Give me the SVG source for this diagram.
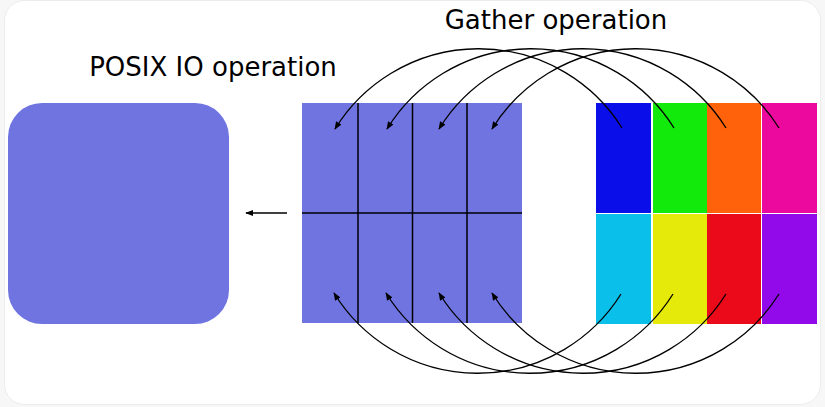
<svg xmlns="http://www.w3.org/2000/svg" width="825" height="407" viewBox="0 0 825 407">
<style>
.lbl{font-family:"DejaVu Sans",sans-serif;font-size:26px;fill:#000;text-anchor:middle}
.grid{stroke:#000;stroke-width:1.5;fill:none}
.arc{stroke:#000;stroke-width:1.3;fill:none;marker-end:url(#ah)}
</style>
<defs>
<marker id="ah" viewBox="0 0 10 10" refX="9" refY="5" markerWidth="8" markerHeight="8" markerUnits="userSpaceOnUse" orient="auto">
<path d="M0,1 L10,5 L0,9 Z" fill="#000"/>
</marker>
</defs>
<rect x="0" y="0" width="825" height="407" fill="#f7f7f7"/>
<rect x="4.5" y="0.5" width="816" height="404" rx="20" fill="#fff" stroke="#ececec"/>
<text class="lbl" x="556" y="29">Gather operation</text>
<text class="lbl" x="213" y="76">POSIX IO operation</text>
<g id="posix">
<rect x="8" y="103" width="221" height="221" rx="34" fill="#6f74e1"/>
</g>
<g id="buffer">
<rect x="302" y="103" width="220" height="220" fill="#6f74e1"/>
<path class="grid" d="M358,103V323M412.5,103V323M467,103V323M302,213H522"/>
</g>
<g id="sources">
<rect x="596" y="103" width="55" height="110" fill="#0a0ee8"/>
<rect x="653" y="103" width="54" height="110" fill="#11ea0a"/>
<rect x="707" y="103" width="54" height="110" fill="#ff620a"/>
<rect x="762" y="103" width="55" height="110" fill="#ec0a9e"/>
<rect x="596" y="214" width="55" height="110" fill="#0abfe9"/>
<rect x="653" y="214" width="54" height="110" fill="#e6ea0a"/>
<rect x="707" y="214" width="54" height="110" fill="#ea0a19"/>
<rect x="762" y="214" width="55" height="110" fill="#920ae9"/>
</g>
<g id="connectors">
<path class="grid" d="M287,213H246" style="stroke-width:1.3;marker-end:url(#ah)"/>
<path class="arc" d="M622,128 A169,169 0 0 0 335,129"/>
<path class="arc" d="M674,128 A169,169 0 0 0 387,129"/>
<path class="arc" d="M726,128 A169,169 0 0 0 439,129"/>
<path class="arc" d="M779,128 A169,169 0 0 0 492,129"/>
<path class="arc" d="M621,294 A169,169 0 0 1 334,293"/>
<path class="arc" d="M673,294 A169,169 0 0 1 386,293"/>
<path class="arc" d="M726,294 A169,169 0 0 1 439,293"/>
<path class="arc" d="M779,294 A169,169 0 0 1 492,293"/>
</g>
</svg>
